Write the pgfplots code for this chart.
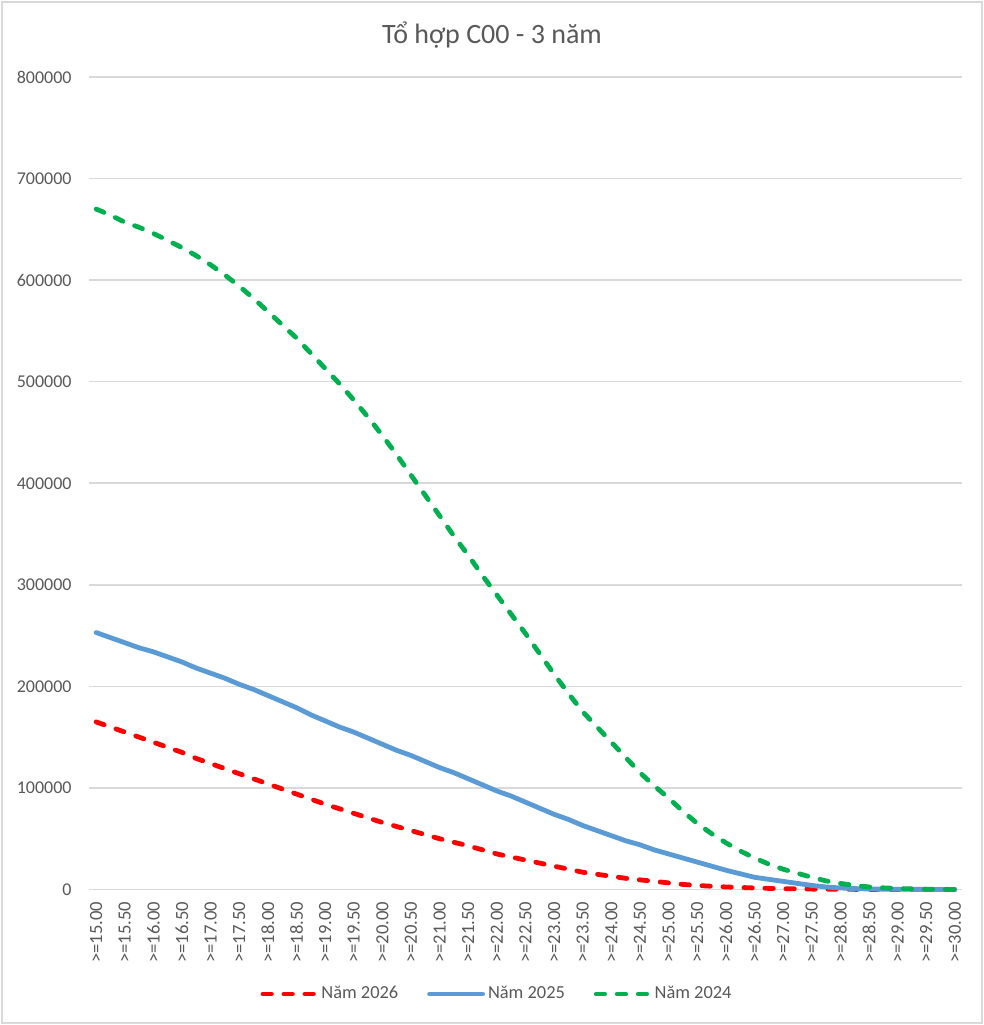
\documentclass[border=0pt]{standalone}
\usepackage{pgfplots}
\usepackage{pgfplotstable}
\pgfplotsset{compat=1.18}
\usepackage{fontspec}
\setmainfont{Carlito}

\definecolor{txtgray}{HTML}{595959}
\definecolor{gridgray}{HTML}{D9D9D9}
\definecolor{c2026}{HTML}{FF0000}
\definecolor{c2025}{HTML}{5B9BD5}
\definecolor{c2024}{HTML}{00B050}

% Cumulative counts of candidates at or above each C00 score
\pgfplotstableread{
x      y2026   y2025   y2024
15.00  165000  253000  670000
15.25  160000  248000  664000
15.50  155000  243000  657000
15.75  150000  238000  652000
16.00  145000  234000  646000
16.25  140000  229000  639000
16.50  135000  224000  632000
16.75  129000  218000  624000
17.00  124000  213000  615000
17.25  119000  208000  605000
17.50  114000  202000  594000
17.75  109000  197000  582000
18.00  104000  191000  569000
18.25   99000  185000  556000
18.50   94000  179000  543000
18.75   89000  172000  528000
19.00   84000  166000  513000
19.25   79500  160000  498000
19.50   75000  155000  482000
19.75   70500  149000  465000
20.00   66000  143000  447000
20.25   62000  137000  428000
20.50   58000  132000  408000
20.75   54000  126000  388000
21.00   50000  120000  368000
21.25   46500  115000  348000
21.50   43000  109000  329000
21.75   39000  103000  309000
22.00   35000   97000  290000
22.25   32000   92000  271000
22.50   29000   86000  252000
22.75   26000   80000  232000
23.00   23000   74000  212000
23.25   20000   69000  193000
23.50   17000   63000  175000
23.75   15000   58000  160000
24.00   13000   53000  145000
24.25   11000   48000  130000
24.50    9500   44000  115000
24.75    8000   39000  102000
25.00    6500   35000   90000
25.25    5000   31000   77000
25.50    4000   27000   65000
25.75    3200   23000   55000
26.00    2500   19000   46000
26.25    2000   15500   38000
26.50    1500   12000   31000
26.75    1100   10000   25000
27.00     800    8000   20000
27.25     600    6000   16000
27.50     400    4000   12000
27.75     300    2500    8500
28.00     200    1500    6000
28.25     150     900    4000
28.50     100     500    2500
28.75      80     300    1600
29.00      50     200    1000
29.25      40     150     600
29.50      30     100     300
29.75      20      50     150
30.00      10      20      50
}\datatable

\begin{document}
\begin{tikzpicture}[x=1pt,y=1pt]
\useasboundingbox (0,0) rectangle (492,512.5);
\fill[white] (0,0) rectangle (492,512.5);
\draw[gridgray, line width=1pt] (0.8,0.8) rectangle (491.2,511.7);
\node[font=\fontsize{14}{16}\selectfont, text=txtgray] at (246,495) {Tổ hợp C00 - 3 năm};
\begin{axis}[
  at={(44.5pt,67.75pt)}, anchor=south west,
  scale only axis, width=436.5pt, height=406.25pt,
  xmin=14.875, xmax=30.125, ymin=0, ymax=800000,
  clip=false,
  axis line style={draw=none},
  major tick length=0pt,
  ymajorgrids, grid style={gridgray, line width=0.8pt},
  ytick={0,100000,...,800000},
  scaled y ticks=false,
  /pgf/number format/.cd, fixed, 1000 sep={}, assume math mode=true,
  /pgfplots/.cd,
  yticklabel style={font=\fontsize{9}{10}\selectfont, text=txtgray, inner sep=0pt, xshift=-8.5pt},
  xtick={15,15.5,...,30},
  xticklabels={>=15.00,>=15.50,>=16.00,>=16.50,>=17.00,>=17.50,>=18.00,>=18.50,>=19.00,>=19.50,>=20.00,>=20.50,>=21.00,>=21.50,>=22.00,>=22.50,>=23.00,>=23.50,>=24.00,>=24.50,>=25.00,>=25.50,>=26.00,>=26.50,>=27.00,>=27.50,>=28.00,>=28.50,>=29.00,>=29.50,>=30.00},
  xticklabel style={font=\fontsize{9.3}{10}\selectfont, text=txtgray, rotate=90, anchor=east, inner sep=0pt, xshift=-6pt},
  legend columns=3,
  legend style={at={(0.468,-0.1286)}, anchor=center, draw=none, fill=none,
    font=\fontsize{9.2}{10}\selectfont, text=txtgray,
    /tikz/every even column/.append style={column sep=13pt},
    nodes={inner sep=1.5pt}},
  legend image code/.code={\draw[#1] (0pt,0pt) -- (26.5pt,0pt);},
]
\addplot[c2026, line width=2.4pt, line cap=round, dash pattern=on 4.2pt off 6.3pt] table[x=x, y=y2026] {\datatable};
\addlegendentry{Năm 2026}
\addplot[c2025, line width=2.4pt, line cap=round, line join=round] table[x=x, y=y2025] {\datatable};
\addlegendentry{Năm 2025}
\addplot[c2024, line width=2.4pt, line cap=round, dash pattern=on 4.2pt off 6.3pt] table[x=x, y=y2024] {\datatable};
\addlegendentry{Năm 2024}
\end{axis}
\end{tikzpicture}
\end{document}
